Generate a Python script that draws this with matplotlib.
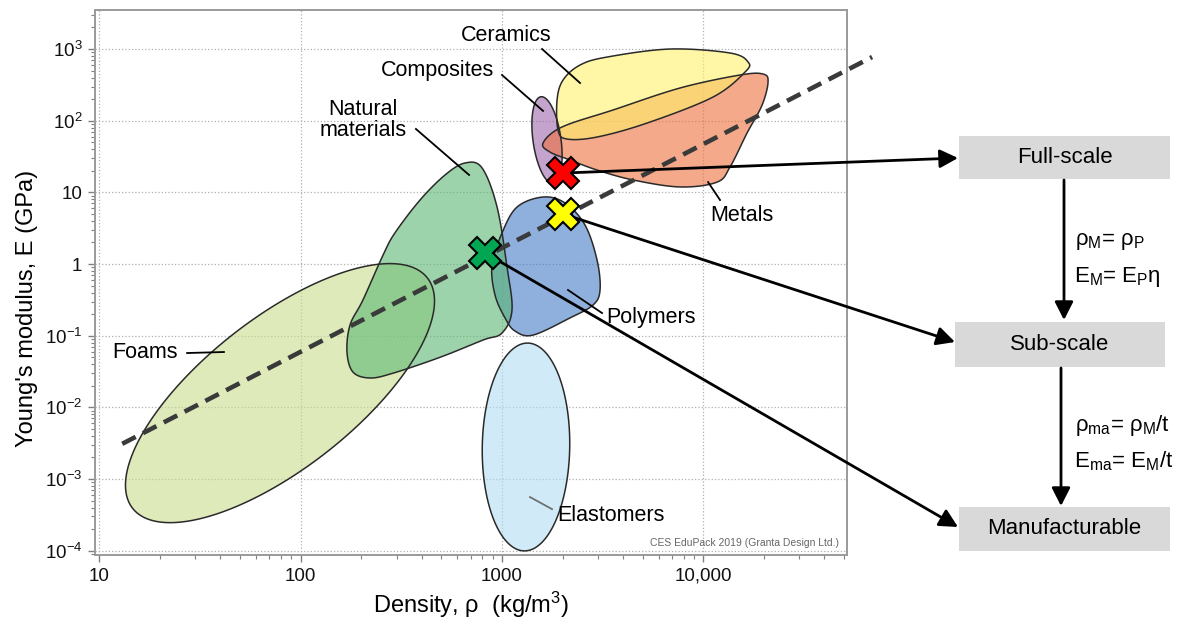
import numpy as np
import matplotlib
matplotlib.use('Agg')
import matplotlib.pyplot as plt
from matplotlib.patches import Polygon, Rectangle
from matplotlib.ticker import LogLocator, NullFormatter

plt.rcParams['font.family'] = ['Liberation Sans', 'DejaVu Sans']
plt.rcParams['mathtext.fontset'] = 'custom'
plt.rcParams['mathtext.rm'] = 'Liberation Sans'
plt.rcParams['mathtext.it'] = 'Liberation Sans:italic'

# envelope outlines: density (kg/m3), modulus (GPa)
natural_rho = [656, 797, 946, 1060, 1122, 1001, 806, 493, 288, 221, 182, 170, 176, 204, 257, 294, 392, 522]
natural_E = [25.7, 21.9, 6.24, 0.908, 0.228, 0.109, 0.087, 0.050, 0.030, 0.0257, 0.0311, 0.0592,
             0.141, 0.315, 1.34, 2.71, 7.82, 17.5]

polymers_rho = [1601, 2058, 2587, 2968, 3072, 2835, 2179, 1427, 1162, 1036, 924, 893, 1001, 1189]
polymers_E = [8.61, 7.10, 3.50, 1.14, 0.434, 0.268, 0.177, 0.102, 0.116, 0.177, 0.370, 0.968, 2.71, 6.24]

metals_rho = [1601, 1989, 3564, 7670, 15230, 19820, 20990, 19600, 16510, 13590, 11710, 7670, 4480, 2968, 2179, 1734]
metals_E = [48.8, 81.7, 141, 286, 434, 448, 347, 165, 67.3, 22.6, 13.9, 11.9, 14.9, 20.5, 28.3, 36.5]

ceramics_rho = [1900, 1879, 2012, 2444, 3329, 6841, 13590, 16700, 16140, 11190, 5259, 2968, 2106]
ceramics_E = [74, 194, 369, 598, 773, 1000, 880, 659, 478, 214, 92.7, 59.2, 55.5]

# elliptical envelopes: centre (rho, E), semi-axes (decades of E on screen), tilt (deg)
foams_ellipse = (79, 0.0158, 2.61, 1.05, 38)
elastomers_ellipse = (1317, 0.0028, 1.45, 0.61, 89)
composites_ellipse = (1675, 53.7, 0.61, 0.195, 98)

# family name, label position, leader line (rho pair, E pair)
label_names = ['Ceramics', 'Composites', 'Natural\nmaterials', 'Foams', 'Polymers', 'Metals', 'Elastomers']
label_rho = [1048, 476, 204, 11.6, 3289, 15580, 1879]
label_E = [1567, 509, 102, 0.0592, 0.177, 4.68, 3.05e-4]
leader_rho = [(1583, 2444), (1001, 1601), (374, 687), (27.3, 41.6), (2130, 3143), (10570, 12120), (1379, 1774)]
leader_E = [(1000, 336), (434, 137), (76.6, 17.5), (0.0573, 0.0592), (0.434, 0.207), (13.9, 7.82), (5.6e-4, 3.8e-4)]

# performance index guide line
guide_rho = [13, 69000]
guide_E = [0.0031, 773]

# design points: full-scale, sub-scale, manufacturable
point_rho = [2012, 2012, 824]
point_E = [18.6, 5.0, 1.43]
point_colors = ['#ff0000', '#ffff00', '#00a651']

stage_names = ['Full-scale', 'Sub-scale', 'Manufacturable']

x_ticks = [10, 100, 1000, 10000]
x_tick_labels = ['10', '100', '1000', '10,000']
y_ticks = [1e-4, 1e-3, 1e-2, 1e-1, 1, 10, 100, 1000]
y_tick_labels = [r'$\mathregular{10^{-4}}$', r'$\mathregular{10^{-3}}$', r'$\mathregular{10^{-2}}$',
                 r'$\mathregular{10^{-1}}$', '1', '10', r'$\mathregular{10^{2}}$', r'$\mathregular{10^{3}}$']

# screen width of an x decade relative to a y decade
DECADE_RATIO = 201.3 / 71.67


def smooth_outline(rho, mod, n=16):
    pts = np.column_stack([np.log10(rho), np.log10(mod)])
    k = len(pts)
    out = []
    for i in range(k):
        p0, p1, p2, p3 = pts[i - 1], pts[i], pts[(i + 1) % k], pts[(i + 2) % k]
        for t in np.linspace(0, 1, n, endpoint=False):
            out.append(0.5 * (2 * p1 + (p2 - p0) * t + (2 * p0 - 5 * p1 + 4 * p2 - p3) * t ** 2
                              + (3 * p1 - p0 - 3 * p2 + p3) * t ** 3))
    out = np.array(out)
    return np.column_stack([10 ** out[:, 0], 10 ** out[:, 1]])


def ellipse_outline(params, n=240):
    rho_c, e_c, a, b, angle = params
    t = np.linspace(0, 2 * np.pi, n, endpoint=False)
    th = np.radians(angle)
    du = a * np.cos(t) * np.cos(th) - b * np.sin(t) * np.sin(th)
    dv = a * np.cos(t) * np.sin(th) + b * np.sin(t) * np.cos(th)
    return np.column_stack([rho_c * 10 ** (du / DECADE_RATIO), e_c * 10 ** dv])


fig = plt.figure(figsize=(11.86, 6.2), dpi=100)
fax = fig.add_axes([0, 0, 1, 1])
fax.set_xlim(0, 1186)
fax.set_ylim(620, 0)
fax.axis('off')
ax = fig.add_axes([0.0801, 0.1048, 0.6338, 0.879])
ax.set_zorder(1)
fax.set_zorder(0)

ax.set_xscale('log')
ax.set_yscale('log')
ax.set_xlim(9.52, 51600)
ax.set_ylim(8.7e-5, 3500)

families = [
    (ellipse_outline(foams_ellipse), '#cadc8e'),
    (smooth_outline(polymers_rho, polymers_E), '#447bc5'),
    (smooth_outline(natural_rho, natural_E), '#5cb773'),
    (ellipse_outline(elastomers_ellipse), '#b1def3'),
    (ellipse_outline(composites_ellipse), '#9e66ac'),
    (smooth_outline(metals_rho, metals_E), '#ee703c'),
    (smooth_outline(ceramics_rho, ceramics_E), '#fff06b'),
]
for outline, color in families:
    ax.add_patch(Polygon(outline, closed=True, facecolor=color, alpha=0.6,
                         edgecolor='none', zorder=2))
    ax.add_patch(Polygon(outline, closed=True, facecolor='none',
                         edgecolor='#2a2a2a', lw=1.1, zorder=2.1))

for name, lr, le, lrho, lE in zip(label_names, label_rho, label_E, leader_rho, leader_E):
    ha = 'left' if name in ('Foams', 'Polymers', 'Elastomers') else 'center'
    ax.text(lr, le, name, ha=ha, va='center', fontsize=15.5, linespacing=0.95, zorder=4)
    lc = '#707070' if name == 'Elastomers' else 'black'
    ax.plot(lrho, lE, color=lc, lw=1.3, zorder=4)

ax.plot(guide_rho, guide_E, color='#3a3a3a', lw=3.3, dashes=(3.3, 1.8), clip_on=False, zorder=3)

ax.text(0.99, 0.022, 'CES EduPack 2019 (Granta Design Ltd.)', transform=ax.transAxes,
        ha='right', va='center', fontsize=7.5, color='#666666', zorder=4)

# flowchart on the right
box_geom = [(959, 136, 211, 43), (955, 322, 210, 45), (959, 507, 211, 44)]
box_tips = [(958, 158), (955, 342), (958, 527)]
for name, (bx, by, bw, bh) in zip(stage_names, box_geom):
    fax.add_patch(Rectangle((bx, by), bw, bh, facecolor='#d9d9d9', edgecolor='none'))
    fax.text(bx + bw / 2, by + bh / 2, name, ha='center', va='center', fontsize=16)

head = '-|>,head_length=0.55,head_width=0.28'
fax.annotate('', xy=(1064, 320), xytext=(1064, 180),
             arrowprops=dict(arrowstyle=head, lw=2, color='black', mutation_scale=20, shrinkA=0, shrinkB=0))
fax.annotate('', xy=(1061, 506), xytext=(1061, 368),
             arrowprops=dict(arrowstyle=head, lw=2, color='black', mutation_scale=20, shrinkA=0, shrinkB=0))

fax.text(1075, 242, r'ρ$_{\mathregular{M}}$= ρ$_{\mathregular{P}}$', ha='left', va='center', fontsize=16)
fax.text(1074, 277, r'E$_{\mathregular{M}}$= E$_{\mathregular{P}}$η', ha='left', va='center', fontsize=16)
fax.text(1075, 425, r'ρ$_{\mathregular{ma}}$= ρ$_{\mathregular{M}}$/t', ha='left', va='center', fontsize=16)
fax.text(1074, 461, r'E$_{\mathregular{ma}}$= E$_{\mathregular{M}}$/t', ha='left', va='center', fontsize=16)

for r, e, tip in zip(point_rho, point_E, box_tips):
    ax.annotate('', xy=tip, xycoords=fax.transData, xytext=(r, e), textcoords='data',
                arrowprops=dict(arrowstyle=head, lw=2, color='black', mutation_scale=20,
                                shrinkA=0, shrinkB=0), zorder=5)

for r, e, c in zip(point_rho, point_E, point_colors):
    ax.plot(r, e, marker='X', markersize=23, markerfacecolor=c, markeredgecolor='black',
            markeredgewidth=1.5, linestyle='none', zorder=6, clip_on=False)

# axes styling
ax.set_xticks(x_ticks)
ax.set_xticklabels(x_tick_labels)
ax.set_yticks(y_ticks)
ax.set_yticklabels(y_tick_labels)
ax.xaxis.set_minor_locator(LogLocator(base=10, subs=np.arange(2, 10)))
ax.yaxis.set_minor_locator(LogLocator(base=10, subs=np.arange(2, 10), numticks=20))
ax.xaxis.set_minor_formatter(NullFormatter())
ax.yaxis.set_minor_formatter(NullFormatter())
ax.tick_params(which='major', direction='out', length=5, width=1, color='#808080',
               labelsize=13.5, labelcolor='#111111', pad=4)
ax.tick_params(which='minor', direction='out', length=3, width=0.8, color='#808080')
for s in ax.spines.values():
    s.set_color('#9a9a9a')
    s.set_linewidth(1.4)
ax.grid(True, which='major', color='#b0b0b0', linestyle=':', linewidth=0.9)
ax.set_axisbelow(True)

ax.set_xlabel(r'Density, ρ  (kg/m$^{\mathregular{3}}$)', fontsize=17)
ax.set_ylabel("Young's modulus, E (GPa)", fontsize=17)
ax.yaxis.set_label_coords(-0.076, 0.453)

fig.savefig('out.png', dpi=100)
